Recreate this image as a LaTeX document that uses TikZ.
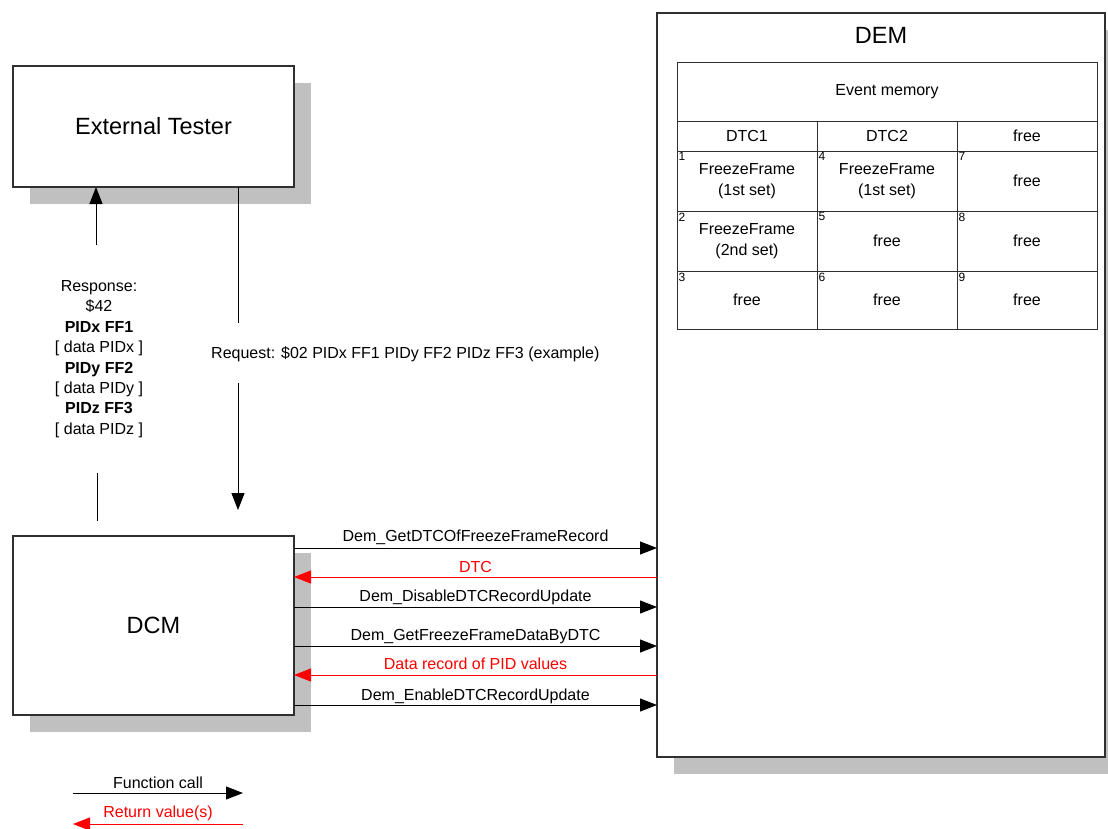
\documentclass[tikz,border=0pt]{standalone}
\usepackage{fontspec}
\setmainfont{Liberation Sans}
\usetikzlibrary{arrows.meta,shadows}
\definecolor{shade}{HTML}{C0C0C0}
\definecolor{frame}{HTML}{303030}
\definecolor{retred}{HTML}{FF0000}
\newcommand{\bigtxt}{\fontsize{23.5}{28}\selectfont}
\newcommand{\midtxt}{\fontsize{16}{20.4}\selectfont}
\newcommand{\smalltxt}{\fontsize{12}{14}\selectfont}

\begin{document}
\begin{tikzpicture}[x=1pt,y=-1pt,
  block/.style={draw=frame, line width=1.3pt, fill=white, inner sep=0pt, outer sep=0pt,
    font=\bigtxt,
    drop shadow={shadow xshift=17pt, shadow yshift=-17pt, fill=shade, opacity=1}},
  cell/.style={draw=frame, line width=1pt, inner sep=0pt, outer sep=0pt,
    minimum width=140pt, font=\midtxt, align=center},
  slot/.style={anchor=north west, inner sep=1.5pt, font=\smalltxt},
  call/.style={draw=black, line width=1pt, -{Triangle[length=17pt,width=13pt]}},
  ret/.style={draw=retred, line width=1pt, -{Triangle[length=17pt,width=13pt]}},
  lbl/.style={font=\midtxt, anchor=base, inner sep=0pt},
  redlbl/.style={lbl, text=retred},
  plain/.style={draw=black, line width=1pt}
]
\useasboundingbox (0,0) rectangle (1108,828);

% main blocks
\node[block, minimum width=281pt, minimum height=121pt] (tester) at (153.5,126.5) {External Tester};
\node[block, minimum width=281pt, minimum height=179pt] (dcm) at (153.5,625.5) {DCM};
\node[block, minimum width=448pt, minimum height=744pt] (dem) at (881,385) {};
\node[font=\bigtxt, anchor=base, inner sep=0pt] (demtitle) at (881,43) {DEM};

% event memory table
\node[cell, minimum width=420pt, minimum height=59pt] (mem) at (887,91.5) {Event memory};
\node[cell, minimum height=30pt] (h1) at (747,136) {DTC1};
\node[cell, minimum height=30pt] (h2) at (887,136) {DTC2};
\node[cell, minimum height=30pt] (h3) at (1027,136) {free};

\node[cell, minimum height=60pt] (c1) at (747,181) {FreezeFrame\\(1st set)};
\node[cell, minimum height=60pt] (c4) at (887,181) {FreezeFrame\\(1st set)};
\node[cell, minimum height=60pt] (c7) at (1027,181) {free};
\node[cell, minimum height=60pt] (c2) at (747,241) {FreezeFrame\\(2nd set)};
\node[cell, minimum height=60pt] (c5) at (887,241) {free};
\node[cell, minimum height=60pt] (c8) at (1027,241) {free};
\node[cell, minimum height=58pt] (c3) at (747,300) {free};
\node[cell, minimum height=58pt] (c6) at (887,300) {free};
\node[cell, minimum height=58pt] (c9) at (1027,300) {free};

\foreach \n in {1,...,9} {
  \node[slot] (n\n) at (c\n.north west) {\n};
}

% tester <-> DCM messages
\coordinate (respTop) at (96,245);
\coordinate (respLow) at (97,473);
\coordinate (respEnd) at (97,521);
\draw[call] (respTop) -- (tester.south -| respTop);
\draw[plain] (respLow) -- (respEnd);
\node[font=\midtxt, align=center, inner sep=0pt] (resp) at (99,359)
  {Response:\\\$42\\\textbf{PIDx FF1}\\{[} data PIDx ]\\\textbf{PIDy FF2}\\{[} data PIDy ]\\\textbf{PIDz FF3}\\{[} data PIDz ]};

\coordinate (reqMid) at (238,323);
\coordinate (reqStart) at (238,383);
\coordinate (reqTip) at (238,510);
\draw[plain] (tester.south -| reqMid) -- (reqMid);
\draw[call] (reqStart) -- (reqTip);
\node[font=\midtxt, anchor=base west, inner sep=0pt] (req) at (211,358)
  {Request: \$02 PIDx FF1 PIDy FF2 PIDz FF3 (example)};

% DCM <-> DEM service calls
\draw[call] (dcm.east |- 0,548) -- node[lbl, yshift=7pt] {Dem\_GetDTCOfFreezeFrameRecord} (dem.west |- 0,548);
\draw[ret] (dem.west |- 0,577) -- node[redlbl, yshift=4.5pt] {DTC} (dcm.east |- 0,577);
\draw[call] (dcm.east |- 0,607) -- node[lbl, yshift=5.5pt] {Dem\_DisableDTCRecordUpdate} (dem.west |- 0,607);
\draw[call] (dcm.east |- 0,646) -- node[lbl, yshift=5.5pt] {Dem\_GetFreezeFrameDataByDTC} (dem.west |- 0,646);
\draw[ret] (dem.west |- 0,675) -- node[redlbl, yshift=6pt] {Data record of PID values} (dcm.east |- 0,675);
\draw[call] (dcm.east |- 0,705) -- node[lbl, yshift=4.5pt] {Dem\_EnableDTCRecordUpdate} (dem.west |- 0,705);

% legend
\coordinate (lgA) at (73,793);
\coordinate (lgB) at (243,793);
\coordinate (lgC) at (243,824);
\coordinate (lgD) at (73,824);
\draw[call] (lgA) -- node[lbl, yshift=5pt] {Function call} (lgB);
\draw[ret] (lgC) -- node[redlbl, yshift=7pt] {Return value(s)} (lgD);
\end{tikzpicture}
\end{document}
